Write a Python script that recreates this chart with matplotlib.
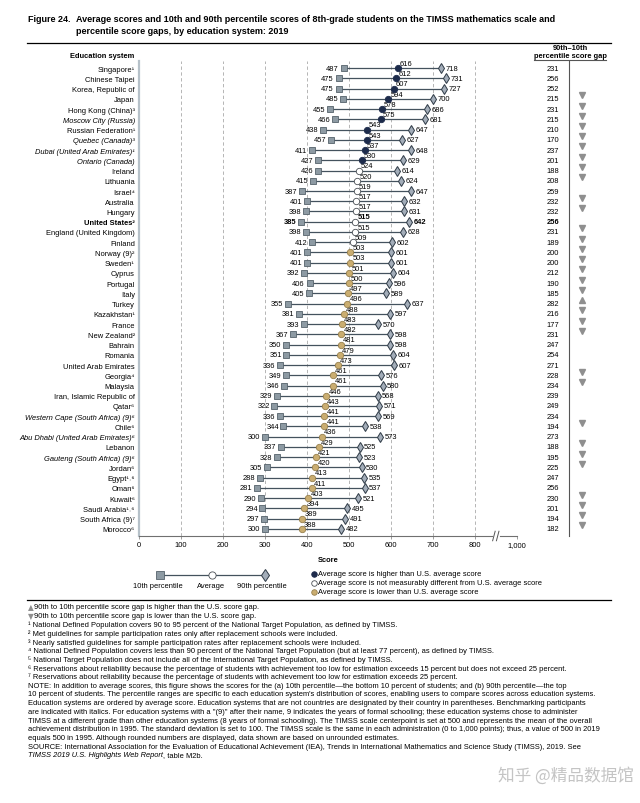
import numpy as np
import matplotlib.pyplot as plt
from matplotlib import font_manager
from matplotlib.transforms import blended_transform_factory

plt.rcParams['font.family'] = ['Liberation Sans', 'DejaVu Sans']

systems = ['Singapore¹', 'Chinese Taipei', 'Korea, Republic of', 'Japan', 'Hong Kong (China)³',
           'Moscow City (Russia)', 'Russian Federation¹', 'Quebec (Canada)³',
           'Dubai (United Arab Emirates)¹', 'Ontario (Canada)', 'Ireland', 'Lithuania', 'Israel⁴',
           'Australia', 'Hungary', 'United States²', 'England (United Kingdom)', 'Finland',
           'Norway (9)²', 'Sweden¹', 'Cyprus', 'Portugal', 'Italy', 'Turkey', 'Kazakhstan¹',
           'France', 'New Zealand²', 'Bahrain', 'Romania', 'United Arab Emirates', 'Georgia⁴',
           'Malaysia', 'Iran, Islamic Republic of', 'Qatar⁶', 'Western Cape (South Africa) (9)⁶',
           'Chile⁶', 'Abu Dhabi (United Arab Emirates)⁶', 'Lebanon', 'Gauteng (South Africa) (9)⁶',
           'Jordan⁶', 'Egypt¹˒⁶', 'Oman⁶', 'Kuwait⁶', 'Saudi Arabia¹˒⁶', 'South Africa (9)⁷', 'Morocco⁶']
p10 = [487, 475, 475, 485, 455, 466, 438, 457, 411, 427, 426, 415, 387, 401, 398, 385, 398, 412,
       401, 401, 392, 406, 405, 355, 381, 393, 367, 350, 351, 336, 349, 346, 329, 322, 336, 344,
       300, 337, 328, 305, 288, 281, 290, 294, 297, 300]
avg = [616, 612, 607, 594, 578, 575, 543, 543, 537, 530, 524, 520, 519, 517, 517, 515, 515, 509,
       503, 503, 501, 500, 497, 496, 488, 483, 482, 481, 479, 473, 461, 461, 446, 443, 441, 441,
       436, 429, 421, 420, 413, 411, 403, 394, 389, 388]
p90 = [718, 731, 727, 700, 686, 681, 647, 627, 648, 629, 614, 624, 647, 632, 631, 642, 628, 602,
       601, 601, 604, 596, 589, 637, 597, 570, 598, 598, 604, 607, 576, 580, 568, 571, 569, 538,
       573, 525, 523, 530, 535, 537, 521, 495, 491, 482]
gap = [231, 256, 252, 215, 231, 215, 210, 170, 237, 201, 188, 208, 259, 232, 232, 256, 231, 189,
       200, 200, 212, 190, 185, 282, 216, 177, 231, 247, 254, 271, 228, 234, 239, 249, 234, 194,
       273, 188, 195, 225, 247, 256, 230, 201, 194, 182]
# v = gap lower than U.S., ^ = gap higher than U.S., '' = not significant
gap_flag = ['', '', '', 'v', 'v', 'v', 'v', 'v', 'v', 'v', 'v', 'v', '', 'v', 'v', '', 'v', 'v',
            'v', 'v', 'v', 'v', 'v', '^', 'v', 'v', 'v', '', '', '', 'v', 'v', '', '', '', 'v',
            '', 'v', 'v', 'v', '', '', 'v', 'v', 'v', 'v']
# h = higher than U.S., n = not different, l = lower
status = ['h'] * 10 + ['n'] * 8 + ['l'] * 28
italic_rows = ['Moscow City (Russia)', 'Quebec (Canada)³', 'Dubai (United Arab Emirates)¹',
               'Ontario (Canada)', 'Western Cape (South Africa) (9)⁶',
               'Abu Dhabi (United Arab Emirates)⁶', 'Gauteng (South Africa) (9)⁶']
us_row = 'United States²'

W, H = 640, 804
FS = 5.4
NFS = 5.45
LINE = '#44525e'
SQ_FC, SQ_EC = '#8d9aa3', '#55626b'
DI_FC, DI_EC = '#a3adb9', '#2e3a46'
AVG_COL = {'h': ('#1d2b4b', '#1d2b4b'), 'n': ('white', '#4a4f55'), 'l': ('#caad70', '#97804e')}
ARROW = '#8f8f8f'

names = {f.name for f in font_manager.fontManager.ttflist}
title_font = dict(family=['Liberation Sans Narrow', 'Liberation Sans'], weight='bold', fontsize=7.8) \
    if 'Liberation Sans Narrow' in names else dict(weight='bold', fontsize=6.5)

fig = plt.figure(figsize=(6.4, 8.04), dpi=100)
n = len(systems)
rows = np.arange(n)
top_px, bot_px = 62, 537

ax = fig.add_axes([139 / W, 1 - bot_px / H, (517 - 139) / W, (bot_px - top_px) / H])
ax.set_xlim(0, 900)
ax.set_ylim(n - 0.3, -0.7)

for x in range(100, 901, 100):
    ax.axvline(x, color='#a9a9a9', lw=0.6, ls=(0, (4, 3)), zorder=0)

ax.hlines(rows, p10, p90, color=LINE, lw=0.9, zorder=2)
ax.plot(p10, rows, 's', ms=4.3, mfc=SQ_FC, mec=SQ_EC, mew=0.6, zorder=3)
ax.plot(p90, rows, 'd', ms=5.6, mfc=DI_FC, mec=DI_EC, mew=0.7, zorder=3)
for st in 'hnl':
    idx = [i for i in rows if status[i] == st]
    fc, ec = AVG_COL[st]
    ax.plot([avg[i] for i in idx], idx, 'o', ms=4.6, mfc=fc, mec=ec, mew=0.6, zorder=4)

for i in rows:
    w = 'bold' if systems[i] == us_row else 'normal'
    ax.text(p10[i] - 11, i, str(p10[i]), ha='right', va='center', fontsize=FS, weight=w)
    ax.text(p90[i] + 11, i, str(p90[i]), ha='left', va='center', fontsize=FS, weight=w)
    ax.text(avg[i] + 5, i - 0.12, str(avg[i]), ha='left', va='bottom', fontsize=FS, weight=w)

ax.set_yticks(rows)
ax.set_yticklabels(systems, fontsize=FS)
for t in ax.get_yticklabels():
    if t.get_text() in italic_rows:
        t.set_style('italic')
    if t.get_text() == us_row:
        t.set_weight('bold')
ax.tick_params(axis='y', length=0, pad=3)
ax.set_xticks(range(0, 901, 100))
ax.set_xticklabels(['0', '100', '200', '300', '400', '500', '600', '700', '800', '1,000'], fontsize=FS)
ax.tick_params(axis='x', length=2, width=0.5, color='#777777', pad=1.5)
for s in ['top', 'right']:
    ax.spines[s].set_visible(False)
ax.spines['left'].set_color('#b6c1c9')
ax.spines['left'].set_linewidth(1.6)
ax.spines['bottom'].set_color('#707070')
ax.spines['bottom'].set_linewidth(0.8)
ax.set_facecolor('none')

# axis break
tr = blended_transform_factory(ax.transData, ax.transAxes)
ax.plot([845, 855], [0, 0], color='white', lw=2, transform=tr, clip_on=False, zorder=5)
for x0 in [842, 851]:
    ax.plot([x0, x0 + 6], [-0.01, 0.01], color='#555555', lw=0.7, transform=tr, clip_on=False, zorder=6)

# gap column
gx = fig.add_axes([535 / W, 1 - bot_px / H, 72 / W, (bot_px - top_px) / H], sharey=ax)
gx.set_xlim(0, 1)
gx.axis('off')
gx.plot([0.476, 0.476], [-0.7, n - 0.3], color='#555555', lw=0.8, clip_on=False)
for i in rows:
    w = 'bold' if systems[i] == us_row else 'normal'
    gx.text(0.25, i, str(gap[i]), ha='center', va='center', fontsize=FS, weight=w)
    if gap_flag[i]:
        gx.plot(0.65, i - 0.35, gap_flag[i], ms=3.8, color=ARROW, mec=ARROW)

# overlay in pixel coordinates for titles, legend and notes
ov = fig.add_axes([0, 0, 1, 1])
ov.set_xlim(0, W)
ov.set_ylim(H, 0)
ov.axis('off')

ov.text(28, 20, 'Figure 24.', va='center', ha='left', **title_font)
ov.text(76, 20, 'Average scores and 10th and 90th percentile scores of 8th-grade students on the TIMSS mathematics scale and',
        va='center', ha='left', **title_font)
ov.text(76, 31, 'percentile score gaps, by education system: 2019', va='center', ha='left', **title_font)
ov.plot([27, 611], [43.5, 43.5], color='black', lw=0.9)

ov.text(134, 56, 'Education system', ha='right', va='center', fontsize=FS, weight='bold')
ov.text(570, 48, '90th–10th', ha='center', va='center', fontsize=FS, weight='bold')
ov.text(570, 56, 'percentile score gap', ha='center', va='center', fontsize=FS, weight='bold')
ov.plot([534, 606], [60.5, 60.5], color='#555555', lw=0.8)

ov.text(328, 561, 'Score', ha='center', va='center', fontsize=FS, weight='bold')

# legend
ov.plot([160, 265], [576, 576], color=LINE, lw=0.9)
ov.plot(160, 576, 's', ms=5.2, mfc=SQ_FC, mec=SQ_EC, mew=0.6)
ov.plot(212, 576, 'o', ms=5.2, mfc='white', mec='#4a4f55', mew=0.6)
ov.plot(265, 576, 'd', ms=6.5, mfc=DI_FC, mec=DI_EC, mew=0.7)
for x, lab in [(158, '10th percentile'), (211, 'Average'), (262, '90th percentile')]:
    ov.text(x, 587, lab, ha='center', va='center', fontsize=FS)
for k, (st, lab) in enumerate([('h', 'Average score is higher than U.S. average score'),
                                ('n', 'Average score is not measurably different from U.S. average score'),
                                ('l', 'Average score is lower than U.S. average score')]):
    y = 575 + k * 9
    fc, ec = AVG_COL[st]
    ov.plot(314, y, 'o', ms=4, mfc=fc, mec=ec, mew=0.6)
    ov.text(318, y, lab, ha='left', va='center', fontsize=FS)

ov.plot([27, 611], [601, 601], color='black', lw=0.9)

notes = [
    '▲ 90th to 10th percentile score gap is higher than the U.S. score gap.',
    '▼ 90th to 10th percentile score gap is lower than the U.S. score gap.',
    '¹ National Defined Population covers 90 to 95 percent of the National Target Population, as defined by TIMSS.',
    '² Met guidelines for sample participation rates only after replacement schools were included.',
    '³ Nearly satisfied guidelines for sample participation rates after replacement schools were included.',
    '⁴ National Defined Population covers less than 90 percent of the National Target Population (but at least 77 percent), as defined by TIMSS.',
    '⁵ National Target Population does not include all of the International Target Population, as defined by TIMSS.',
    '⁶ Reservations about reliability because the percentage of students with achievement too low for estimation exceeds 15 percent but does not exceed 25 percent.',
    '⁷ Reservations about reliability because the percentage of students with achievement too low for estimation exceeds 25 percent.',
    'NOTE: In addition to average scores, this figure shows the scores for the (a) 10th percentile—the bottom 10 percent of students; and (b) 90th percentile—the top',
    "10 percent of students. The percentile ranges are specific to each education system's distribution of scores, enabling users to compare scores across education systems.",
    'Education systems are ordered by average score. Education systems that are not countries are designated by their country in parentheses. Benchmarking participants',
    'are indicated with italics. For education systems with a "(9)" after their name, 9 indicates the years of formal schooling; these education systems chose to administer',
    'TIMSS at a different grade than other education systems (8 years of formal schooling). The TIMSS scale centerpoint is set at 500 and represents the mean of the overall',
    'achievement distribution in 1995. The standard deviation is set to 100. The TIMSS scale is the same in each administration (0 to 1,000 points); thus, a value of 500 in 2019',
    'equals 500 in 1995. Although rounded numbers are displayed, data shown are based on unrounded estimates.',
    'SOURCE: International Association for the Evaluation of Educational Achievement (IEA), Trends in International Mathematics and Science Study (TIMSS), 2019. See',
]
for k, line in enumerate(notes):
    y = 608 + k * 8.7
    if line[0] in '▲▼':
        ov.text(28, y, line[0], ha='left', va='center', fontsize=NFS, color=ARROW,
                family=['DejaVu Sans'])
        ov.text(34, y, line[2:], ha='left', va='center', fontsize=NFS)
    else:
        ov.text(28, y, line, ha='left', va='center', fontsize=NFS)
y = 608 + len(notes) * 8.7
t = ov.text(28, y, 'TIMSS 2019 U.S. Highlights Web Report', ha='left', va='center', fontsize=NFS, style='italic')
ov.annotate(', table M2b.', xycoords=t, xy=(1, 0.5), va='center', ha='left', fontsize=NFS)

ov.text(634, 776, '知乎 @精品数据馆', ha='right', va='center', fontsize=12, color='#c4c4c4',
        family=['Noto Sans CJK SC', 'DejaVu Sans'])

fig.savefig('out.png', dpi=100, facecolor='white')
